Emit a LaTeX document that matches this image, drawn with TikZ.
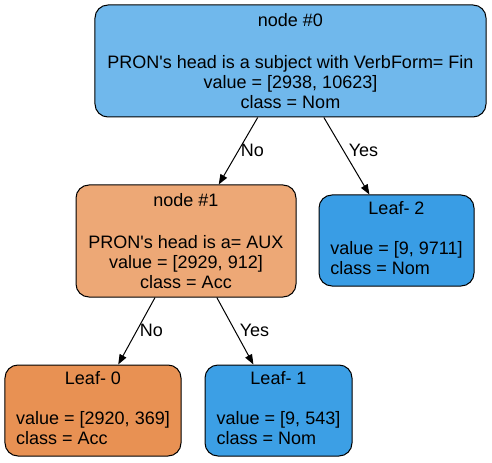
\documentclass[tikz,border=0pt]{standalone}
\usepackage{fontspec}
\setmainfont{Liberation Sans}
\usetikzlibrary{arrows.meta}
\definecolor{cN0}{HTML}{70B8EC}
\definecolor{cN1}{HTML}{EDA876}
\definecolor{cL0}{HTML}{E89153}
\definecolor{cL1}{HTML}{3C9FE5}
\definecolor{cL2}{HTML}{399DE5}
\tikzset{
  box/.style={draw=black, line width=1bp, rounded corners=13bp, inner sep=0pt,
    font=\fontsize{18bp}{20bp}\selectfont, align=center},
  lbl/.style={font=\fontsize{18bp}{20bp}\selectfont, inner sep=0pt},
  edge/.style={draw=black, line width=1bp, -{Triangle[length=10bp,width=7.5bp]}}
}
\begin{document}
\begin{tikzpicture}[x=1bp,y=-1bp]
\useasboundingbox (0,0) rectangle (492,463);
\node[box, fill=cN0, minimum width=391bp, minimum height=112bp] (n0) at (290.5,61)
  {node \#0\\[22bp]PRON\textquotesingle s head is a subject with VerbForm= Fin\\value = [2938, 10623]\\class = Nom};
\node[box, fill=cN1, minimum width=220bp, minimum height=112bp] (n1) at (186,241)
  {node \#1\\[22bp]PRON\textquotesingle s head is a= AUX\\value = [2929, 912]\\class = Acc};
\node[box, fill=cL2, minimum width=155bp, minimum height=91bp] (l2) at (396.5,240.5)
  {\begin{tabular}{@{}l@{}}\multicolumn{1}{@{}c@{}}{Leaf- 2}\\[20bp] value = [9, 9711]\\ class = Nom\end{tabular}};
\node[box, fill=cL0, minimum width=176bp, minimum height=91bp] (l0) at (93,410.5)
  {\begin{tabular}{@{}l@{}}\multicolumn{1}{@{}c@{}}{Leaf- 0}\\[20bp] value = [2920, 369]\\ class = Acc\end{tabular}};
\node[box, fill=cL1, minimum width=147bp, minimum height=91bp] (l1) at (278.5,410.5)
  {\begin{tabular}{@{}l@{}}\multicolumn{1}{@{}c@{}}{Leaf- 1}\\[20bp] value = [9, 543]\\ class = Nom\end{tabular}};
\draw[edge] (n0) -- (n1);
\draw[edge] (n0) -- (l2);
\draw[edge] (n1) -- (l0);
\draw[edge] (n1) -- (l1);
\node[lbl] (e1) at (252.5,150) {No};
\node[lbl] (e2) at (363.5,150) {Yes};
\node[lbl] (e3) at (151.5,330) {No};
\node[lbl] (e4) at (254.5,330) {Yes};
\end{tikzpicture}
\end{document}
